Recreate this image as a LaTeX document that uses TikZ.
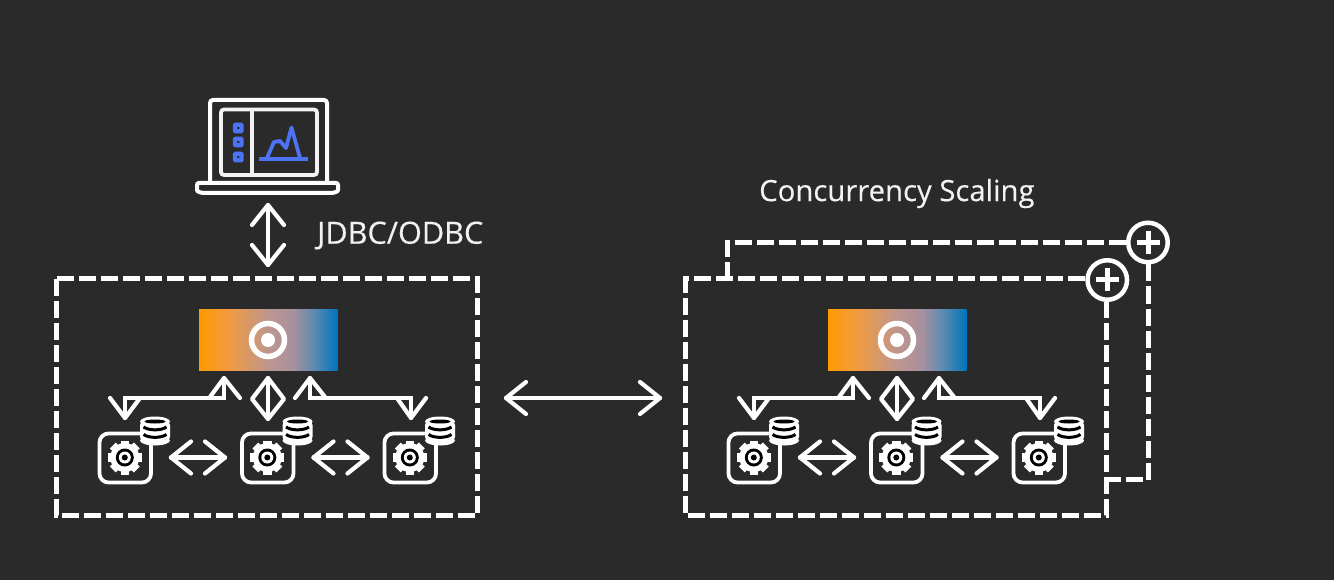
\documentclass[tikz,border=0pt]{standalone}
\usepackage{fontspec}
\setmainfont[FakeBold=0.3]{Open Sans}
\definecolor{bgc}{HTML}{2A2A2A}
\definecolor{blu}{HTML}{4D72F3}
\definecolor{fg}{HTML}{F2F2F2}
\definecolor{org}{HTML}{FF9900}
\definecolor{org2}{HTML}{F59C3A}
\definecolor{mid}{HTML}{BE968E}
\definecolor{mid2}{HTML}{A8909F}
\definecolor{blu3}{HTML}{5F8CB0}
\definecolor{blu2}{HTML}{0073BB}
\pgfdeclarehorizontalshading{brandgrad}{100bp}{color(0bp)=(org); color(25bp)=(org); color(34.4bp)=(org2); color(49.9bp)=(mid); color(58.9bp)=(mid2); color(66.2bp)=(blu3); color(75bp)=(blu2); color(100bp)=(blu2)}
\newcommand{\darrowV}[3]{% x, y1, y2
  \draw[arrowline] (#1,#2) -- (#1,#3);
  \draw[arrowline] (#1-16,#2+20) -- (#1,#2) -- (#1+16,#2+20);
  \draw[arrowline] (#1-16,#3-20) -- (#1,#3) -- (#1+16,#3-20);}
\newcommand{\darrowH}[3]{% x1, x2, y
  \draw[arrowline] (#1,#3) -- (#2,#3);
  \draw[arrowline] (#1+20,#3-16) -- (#1,#3) -- (#1+20,#3+16);
  \draw[arrowline] (#2-20,#3-16) -- (#2,#3) -- (#2-20,#3+16);}
\newcommand{\gearicon}[2]{%
  \begin{scope}[shift={(#1,#2)}]
    \foreach \a in {0,45,...,315}
      \fill[white,rotate=\a] (-4.2,10) rectangle (4.2,17);
    \fill[white] (0,0) circle (14.5);
    \fill[black] (0,0) circle (9);
    \fill[white] (0,0) circle (6);
    \fill[black] (0,0) circle (3);
  \end{scope}}
\newcommand{\dbicon}[2]{%
  \begin{scope}[shift={(#1,#2)}]
    \fill[white,rounded corners=4pt] (-15,-10) rectangle (15,10);
    \fill[white] (0,-9.5) ellipse (15 and 5);
    \fill[white] (0,9.5) ellipse (15 and 5);
    \fill[black] (0,-9.5) ellipse (10.5 and 2);
    \foreach \y in {-4,3.5}
      \draw[black,line width=3pt] (-11.5,\y) .. controls (-6,\y+3.8) and (6,\y+3.8) .. (11.5,\y);
  \end{scope}}
\newcommand{\clusterat}[1]{%
  \begin{scope}[xshift=#1]
    \shade[shading=brandgrad] (199,309) rectangle (337.5,370);
    \draw[white,line width=5.5pt] (268,340) circle (16.5);
    \fill[white] (268,340) circle (7);
    % left control arrow
    \draw[arrowline,line join=miter] (224,378) -- (224,398) -- (125,398) -- (125,418);
    \draw[arrowline] (210,397) -- (224,378) -- (240,398);
    \draw[arrowline] (110,398) -- (125,418) -- (140,398);
    % right control arrow
    \draw[arrowline,line join=miter] (310,378) -- (310,398) -- (411,398) -- (411,418);
    \draw[arrowline] (295,398) -- (310,378) -- (325,397);
    \draw[arrowline] (397,398) -- (411,418) -- (426,398);
    % centre
    \draw[arrowline] (268,378) -- (268,419);
    \draw[arrowline] (268,378) -- (252,399) -- (268,419) -- (284,399) -- cycle;
    \foreach \d in {0,142.5,285} {
      \draw[white,line width=3.8pt,rounded corners=9pt] (99.5+\d,433.5) rectangle (151+\d,482.5);
      \gearicon{124.8+\d}{457.5}
      \dbicon{155+\d}{431}
    }
    \darrowH{171}{225}{457.5}
    \darrowH{313.5}{367.5}{457.5}
  \end{scope}}
\tikzset{
  arrowline/.style={white,line width=4.2pt,line cap=round,line join=round},
  dashbox/.style={white,line width=5pt,dash pattern=on 17pt off 5pt},
  plusnode/.style={circle,draw=white,line width=4.5pt,minimum size=39.5pt,inner sep=0pt},
  plusbar/.style={white,line width=5pt},
  label/.style={text=fg,inner sep=0pt,anchor=west},
}
\begin{document}
\begin{tikzpicture}[x=1pt,y=-1pt]
  \useasboundingbox (0,0) rectangle (1334,580);
  \fill[bgc] (0,0) rectangle (1334,580);

  % laptop
  \draw[white,line width=4pt,rounded corners=3pt] (210,182) -- (210,100) -- (327,100) -- (327,182);
  \draw[fg,line width=3.8pt,rounded corners=3pt] (221,109.5) rectangle (317,175);
  \draw[fg,line width=3.8pt] (252,109.5) -- (252,175);
  \draw[white,line width=4pt,rounded corners=2pt] (197,183) -- (338,183) -- (338,188) .. controls (338,192) and (333,193) .. (329,193) -- (206,193) .. controls (202,193) and (197,192) .. (197,188) -- cycle;
  \foreach \y in {128,142,157} {
    \draw[blu,line width=4.2pt,rounded corners=0.5pt] (235,\y-3.2) rectangle (241.5,\y+3.2);
  }
  \draw[blu,line width=3.8pt] (259,159) -- (308,159);
  \draw[blu,line width=3.8pt,line join=round] (267,158) -- (274,142) -- (280,141) -- (286,148) -- (291.5,127.5) -- (300,158);

  \darrowV{268}{205}{265}

  \node[label,font=\fontsize{30.6}{32}\selectfont] (jdbc) at (317,235.5) {JDBC/ODBC};
  \node[label,font=\fontsize{29.3}{32}\selectfont] (cs) at (759,193.5) {Concurrency Scaling};

  % plus badges
  \node[plusnode] (plusb) at (1148,242.5) {};
  \node[plusnode] (plusf) at (1107.3,280) {};
  \draw[plusbar] (1136.5,242.5) -- (1159.5,242.5) (1148,231) -- (1148,254);
  \draw[plusbar] (1095.8,280) -- (1118.8,280) (1107.3,268.5) -- (1107.3,291.5);

  \coordinate (bk0) at (727,279);
  \coordinate (bk1) at (727,242.5);
  \coordinate (bk2) at (1148,479.5);
  \coordinate (bk3) at (1107,479.5);
  \draw[dashbox] (bk0) -- (bk1) -- (plusb.west);
  \draw[dashbox] (plusb.south) -- (bk2) -- (bk3);

  % main boxes
  \draw[dashbox] (56.7,279) rectangle (477.7,515.5);
  \draw[dashbox] (1085,279) -- (685.7,279) -- (685.7,515.5) -- (1106.7,515.5) -- (1106.7,302);

  \clusterat{0pt}
  \clusterat{629pt}

  \darrowH{506}{660}{398}
\end{tikzpicture}
\end{document}
